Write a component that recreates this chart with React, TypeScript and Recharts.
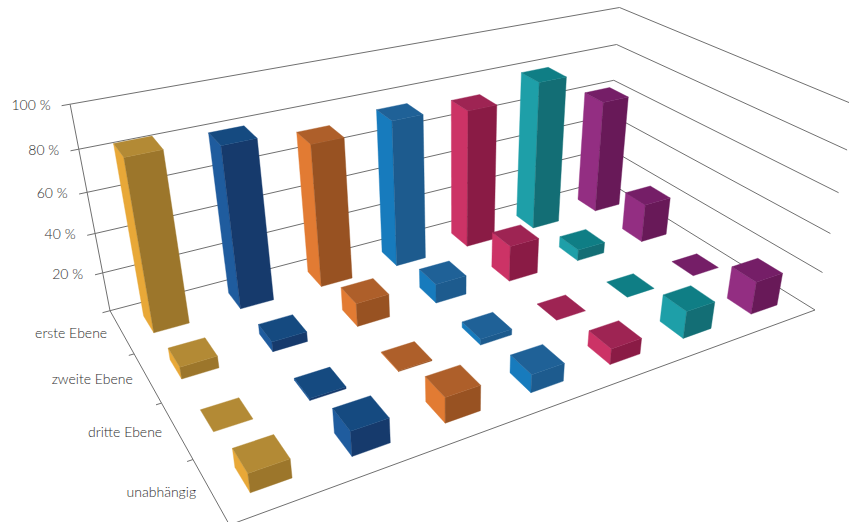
import { ScatterChart, Scatter, XAxis, YAxis, ZAxis } from "recharts";

const CHART_WIDTH = 849;
const CHART_HEIGHT = 522;

const ROW_LABELS = ["erste Ebene", "zweite Ebene", "dritte Ebene", "unabhängig"];
const PERCENT_TICKS = [0, 20, 40, 60, 80, 100];

// one list per row, left to right over the seven columns
const ERSTE_EBENE = [84.5, 81, 73, 76, 73, 80, 62];
const ZWEITE_EBENE = [6, 5, 12, 10, 19, 6, 21];
const DRITTE_EBENE = [0, 1, 0.5, 3, 0, 0, 0];
const UNABHAENGIG = [9, 12, 12.5, 9, 8, 14, 17];
const ROW_VALUES = [ERSTE_EBENE, ZWEITE_EBENE, DRITTE_EBENE, UNABHAENGIG];

const COLUMN_COUNT = 7;
const ROW_COUNT = ROW_VALUES.length;

// side, top and front shade of every column
const COLUMN_SHADES = [
  { side: "#e8a838", top: "#b38a35", front: "#9c762b" },
  { side: "#1f5c9e", top: "#154a80", front: "#163a6c" },
  { side: "#e27b33", top: "#ae5f2a", front: "#985222" },
  { side: "#177bbd", top: "#1f6197", front: "#1d5b8e" },
  { side: "#cc3366", top: "#9e2453", front: "#8a1b45" },
  { side: "#1e9fa8", top: "#0f7e85", front: "#136e75" },
  { side: "#932e82", top: "#751e67", front: "#681958" },
];

const BAR_FRACTION = 0.4;
const LINE_COLOR = "#707070";
const TEXT_COLOR = "#2e2e2e";
const FONT = "Lato, 'Open Sans', sans-serif";

// homogeneous basis of the perspective box: u = left/right, v = back/front, h = up
const ORIGIN = [110, 310.7, 1];
const AXIS_U = [648.5, -84.8, 0.2517];
const AXIS_V = [63.8, 86.9, -0.2427];
const AXIS_H = [-47.2, -217.3, -0.1036];

function project(u: number, v: number, h: number): [number, number] {
  const at = (i: number) =>
    ORIGIN[i] + u * AXIS_U[i] + v * AXIS_V[i] + h * AXIS_H[i];
  return [at(0) / at(2), at(1) / at(2)];
}

const toPoints = (pts: [number, number][]) =>
  pts.map(([x, y]) => `${x.toFixed(1)},${y.toFixed(1)}`).join(" ");

function Face({ pts, fill }: { pts: [number, number][]; fill: string }) {
  // the hairline stroke closes the seams between neighbouring faces
  return (
    <polygon
      points={toPoints(pts)}
      fill={fill}
      stroke={fill}
      strokeWidth={0.4}
      strokeLinejoin="round"
    />
  );
}

function Bar3D(props: any) {
  const { cx, cy, size: h, payload } = props;
  const u = cx / CHART_WIDTH;
  const v = cy / CHART_HEIGHT;
  const du = BAR_FRACTION / COLUMN_COUNT / 2;
  const dv = BAR_FRACTION / ROW_COUNT / 2;
  const shades = COLUMN_SHADES[Math.floor(payload.col)];

  const u0 = u - du;
  const u1 = u + du;
  const v0 = v - dv;
  const v1 = v + dv;

  return (
    <g>
      {h > 0 && (
        <>
          <Face
            pts={[
              project(u0, v0, 0),
              project(u0, v1, 0),
              project(u0, v1, h),
              project(u0, v0, h),
            ]}
            fill={shades.side}
          />
          <Face
            pts={[
              project(u0, v1, 0),
              project(u1, v1, 0),
              project(u1, v1, h),
              project(u0, v1, h),
            ]}
            fill={shades.front}
          />
        </>
      )}
      <Face
        pts={[
          project(u0, v0, h),
          project(u1, v0, h),
          project(u1, v1, h),
          project(u0, v1, h),
        ]}
        fill={shades.top}
      />
    </g>
  );
}

const labelStyle = {
  textAnchor: "end" as const,
  dominantBaseline: "middle" as const,
  fontFamily: FONT,
  fontSize: 14,
  fontWeight: 300,
  fill: TEXT_COLOR,
};

// wall lines, the tick and the percent label of one axis value
function WallLine(props: any) {
  const { size: h, payload } = props;
  const [ax, ay] = project(0, 0, h);
  return (
    <g>
      <polyline
        points={toPoints([
          project(-0.012, 0, h),
          project(0, 0, h),
          project(1, 0, h),
          project(1, 1, h),
        ])}
        fill="none"
        stroke={LINE_COLOR}
        strokeWidth={1}
      />
      {payload.value > 0 && (
        <text x={ax - 19.5} y={ay + 2.5} {...labelStyle}>
          {payload.value} %
        </text>
      )}
    </g>
  );
}

// left floor edge with row tick and row label
function RowEdge(props: any) {
  const { cy, payload } = props;
  const v = cy / CHART_HEIGHT;
  const vEnd = v + 0.5 / ROW_COUNT;
  const [ax, ay] = project(0, v, 0);
  return (
    <g>
      <polyline
        points={toPoints([
          project(0, v - 0.5 / ROW_COUNT, 0),
          project(0, vEnd, 0),
        ])}
        fill="none"
        stroke={LINE_COLOR}
      />
      {payload.row < ROW_COUNT - 1 && (
        <polyline
          points={toPoints([project(-0.008, vEnd, 0), project(0, vEnd, 0)])}
          fill="none"
          stroke={LINE_COLOR}
        />
      )}
      <text x={ax - 14.5} y={ay + 3} {...labelStyle}>
        {ROW_LABELS[Math.floor(payload.row)]}
      </text>
    </g>
  );
}

function BoxEdges() {
  return (
    <g>
      <polyline
        points={toPoints([project(0, 0, 0), project(0, 0, 1)])}
        fill="none"
        stroke={LINE_COLOR}
      />
      <polyline
        points={toPoints([project(0, 1, 0), project(1, 1, 0)])}
        fill="none"
        stroke={LINE_COLOR}
      />
    </g>
  );
}

const wallData = PERCENT_TICKS.map((value) => ({ col: 0, row: 0, value }));
const edgeData = ROW_LABELS.map((_, i) => ({ col: 0, row: i + 0.5, value: 0 }));
const rowData = (values: number[], row: number) =>
  values.map((value, i) => ({ col: i + 0.5, row: row + 0.5, value }));

export default function App() {
  return (
    <div style={{ position: "absolute", left: 0, top: 0 }}>
      <ScatterChart
        width={CHART_WIDTH}
        height={CHART_HEIGHT}
        margin={{ top: 0, right: 0, bottom: 0, left: 0 }}
      >
        <XAxis type="number" dataKey="col" domain={[0, COLUMN_COUNT]} hide />
        <YAxis
          type="number"
          dataKey="row"
          domain={[0, ROW_COUNT]}
          reversed
          hide
        />
        <ZAxis type="number" dataKey="value" domain={[0, 100]} range={[0, 1]} />
        <Scatter data={wallData} shape={<WallLine />} isAnimationActive={false} />
        <Scatter data={edgeData} shape={<RowEdge />} isAnimationActive={false} />
        <Scatter
          data={[{ col: 0, row: 0, value: 0 }]}
          shape={<BoxEdges />}
          isAnimationActive={false}
        />
        {ROW_VALUES.map((values, row) => (
          <Scatter
            key={ROW_LABELS[row]}
            data={rowData(values, row)}
            shape={<Bar3D />}
            isAnimationActive={false}
          />
        ))}
      </ScatterChart>
    </div>
  );
}
